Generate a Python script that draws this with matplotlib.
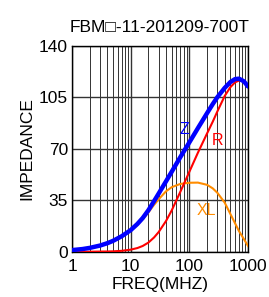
import matplotlib
matplotlib.use("Agg")
import matplotlib.pyplot as plt
from matplotlib.ticker import LogLocator, NullFormatter, FixedLocator

plt.rcParams['font.family'] = ['Liberation Sans', 'DejaVu Sans']

# ---------- data ----------
freq = [1, 1.5, 2, 3, 4, 5, 7, 10, 13, 16, 20, 25, 30, 40, 50, 70, 100,
        140, 200, 250, 300, 400, 500, 600, 700, 850, 1000]
z_vals = [1.2, 1.9, 2.7, 4.3, 5.9, 7.5, 10.6, 14.8, 19, 23, 28.3, 34.5, 39.7, 48, 54.5, 64.4, 74.5,
          84.2, 94.3, 100.5, 105.2, 111.5, 115.5, 117.5, 117.8, 116, 112.5]
r_vals = [0, 0.05, 0.1, 0.2, 0.25, 0.35, 0.7, 1.5, 2.6, 4, 6.3, 9.8, 13.5, 21, 28.2, 40.8, 54.5,
          67.5, 80.5, 88.5, 95.5, 106, 112, 115.3, 116.5, 116, 113]
xl_vals = [1.2, 1.8, 2.6, 4.2, 5.8, 7.4, 10.4, 14.4, 18.4, 22.2, 26.8, 32, 35.8, 41.2, 44, 46.2, 47,
           47.1, 45.6, 43.2, 40.2, 33.5, 25.8, 19.5, 14.2, 8.7, 4]

y_ticks = [0, 35, 70, 105, 140]
x_ticks = [1, 10, 100, 1000]
title = "FBM\u25a1-11-201209-700T"

# ---------- plot ----------
fig = plt.figure(figsize=(2.69, 2.97), dpi=100)
ax = fig.add_axes([0.268, 0.152, 0.654, 0.693])

ax.plot(freq, xl_vals, color='#ff8c00', lw=1.5, zorder=3)
ax.plot(freq, r_vals, color='#ff0000', lw=1.5, zorder=4)
ax.plot(freq, z_vals, color='#0000ff', lw=3.2, zorder=5, solid_capstyle='round')

ax.set_xscale('log')
ax.set_xlim(1, 1000)
ax.set_ylim(0, 140)
ax.xaxis.set_major_locator(FixedLocator(x_ticks))
ax.xaxis.set_minor_locator(LogLocator(base=10, subs=range(2, 10)))
ax.xaxis.set_minor_formatter(NullFormatter())
ax.set_xticklabels([str(t) for t in x_ticks])
ax.set_yticks(y_ticks)

ax.grid(True, which='major', color='#333333', lw=1.0)
ax.grid(True, which='minor', axis='x', color='#333333', lw=0.7)
ax.tick_params(which='both', length=0, labelsize=12.5)
ax.tick_params(axis='x', pad=5)
ax.tick_params(axis='y', pad=3)
for s in ax.spines.values():
    s.set_color('black')
    s.set_linewidth(1.0)

ax.text(82, 83, "Z", color='#0000ff', fontsize=11.5, ha='center', va='center', zorder=6)
ax.text(300, 76, "R", color='#ff0000', fontsize=11.5, ha='center', va='center', zorder=6)
ax.text(195, 28, "XL", color='#ff8c00', fontsize=11.5, ha='center', va='center', zorder=6)

ax.set_title(title, fontsize=12.5, pad=10)
ax.set_xlabel("FREQ(MHZ)", fontsize=12.5, labelpad=2.5)
ax.set_ylabel("IMPEDANCE", fontsize=12.5, labelpad=3)

fig.savefig("out.png", dpi=100)
